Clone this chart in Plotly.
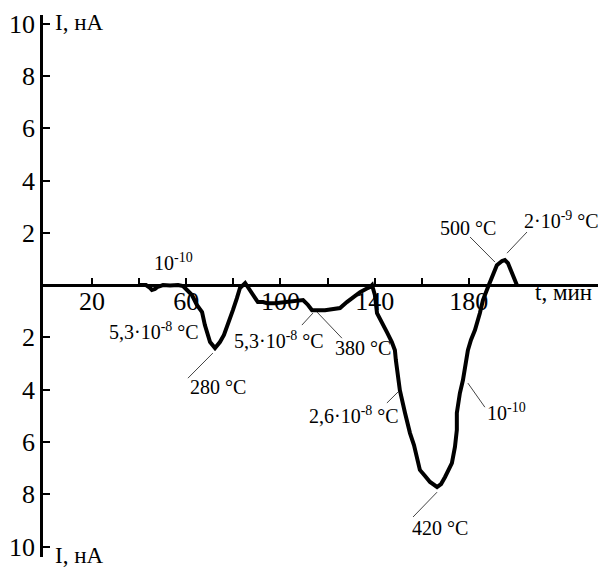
import plotly.graph_objects as go

# Time, min
t_min = [40.3, 42.9, 44.6, 45.4, 46.7, 47.6, 50.1, 53.1, 56.5, 58.6, 60.3, 62.4, 64.5, 66.7, 67.9,
         69.2, 70.1, 72.2, 74.3, 76.0, 77.3, 78.6, 79.8, 81.5, 82.8, 85.0, 86.2, 88.3, 90.4, 92.6,
         94.3, 97.7, 101.9, 106.2, 109.6, 111.7, 113.4, 118.9, 125.3, 128.2, 131.6, 133.8, 136.3,
         138.0, 138.9, 140.1, 141.0, 143.1, 145.2, 147.3, 148.6, 149.0, 149.5, 149.9, 150.7, 152.9,
         155.0, 156.7, 158.0, 159.2, 161.4, 163.5, 166.5, 168.2, 169.9, 172.0, 172.8, 174.1, 174.5,
         174.9, 174.9, 176.2, 177.5, 178.3, 179.6, 180.9, 182.6, 184.7, 186.0, 188.1, 189.8, 191.9,
         194.1, 195.3, 196.6, 197.5, 198.7, 199.6, 200.4]
# Current, nA (negative = below the time axis)
current_nA = [0.0, 0.0, -0.11, -0.19, -0.15, -0.08, 0.0, -0.02, 0.0, -0.04, -0.19, -0.38, -0.76, -1.03, -1.53,
              -1.91, -2.18, -2.41, -2.18, -1.91, -1.61, -1.26, -0.96, -0.50, -0.11, 0.08, -0.08, -0.31, -0.65, -0.65,
              -0.69, -0.69, -0.65, -0.61, -0.57, -0.76, -0.96, -0.96, -0.88, -0.65, -0.42, -0.27, -0.15,
              -0.08, 0.0, -0.38, -1.07, -1.41, -1.80, -2.18, -2.49, -2.87, -3.25, -3.63, -4.02, -4.89,
              -5.66, -6.12, -6.58, -7.07, -7.30, -7.53, -7.72, -7.61, -7.34, -7.00, -6.81, -6.19, -5.85,
              -5.54, -4.89, -4.13, -3.63, -3.25, -2.49, -2.10, -1.72, -1.07, -0.57, -0.08, 0.31, 0.76,
              0.92, 0.96, 0.84, 0.65, 0.38, 0.19, 0.0]

x_ticks = [20, 40, 60, 80, 100, 120, 140, 160, 180]
x_tick_text = ["20", "", "60", "", "100", "", "140", "", "180"]
y_ticks = [-10, -8, -6, -4, -2, 2, 4, 6, 8, 10]
y_tick_text = ["10", "8", "6", "4", "2", "2", "4", "6", "8", "10"]

# labels: text, (t, I) of text left/centre, leader line from curve point to text
labels = [
    ("10<sup>-10</sup>", 45.4, 0.88, None),
    ("5,3·10<sup>-8</sup> °C", 26.3, -1.76, None),
    ("280 °C", 60.7, -3.90, (71.3, -2.60, 60.7, -3.56)),
    ("5,3·10<sup>-8</sup> °C", 79.4, -2.10, (113.8, -1.07, 109.1, -1.53)),
    ("380 °C", 122.3, -2.41, (115.5, -1.03, 126.1, -2.03)),
    ("2,6·10<sup>-8</sup> °C", 111.3, -4.97, (149.9, -4.09, 145.2, -4.51)),
    ("420 °C", 155.0, -9.29, (166.5, -7.92, 156.3, -8.87)),
    ("10<sup>-10</sup>", 186.8, -4.86, (179.6, -3.75, 186.8, -4.67)),
    ("500 °C", 166.9, 2.18, (180.5, 1.84, 191.1, 0.88)),
    ("2·10<sup>-9</sup> °C", 202.5, 2.49, (204.7, 2.03, 196.2, 1.22)),
]

FONT = "Liberation Serif, Times New Roman, serif"

fig = go.Figure()
fig.add_trace(go.Scatter(x=t_min, y=current_nA, mode="lines",
                         line=dict(color="black", width=4), showlegend=False,
                         hoverinfo="skip"))

y_range = [-10.40, 10.33]
x_range = [-0.85, 235.7]
zero_pos = (0 - y_range[0]) / (y_range[1] - y_range[0])

annotations = []
shapes = []
for text, tx, ty, leader in labels:
    annotations.append(dict(x=tx, y=ty, xref="x", yref="y", text=text, showarrow=False,
                            xanchor="left", yanchor="middle",
                            font=dict(family=FONT, size=20, color="black")))
    if leader:
        x0, y0, x1, y1 = leader
        shapes.append(dict(type="line", xref="x", yref="y", x0=x0, y0=y0, x1=x1, y1=y1,
                           line=dict(color="#444", width=1)))

annotations += [
    dict(x=3.4, y=10.06, xref="x", yref="y", text="I, нА", showarrow=False,
         xanchor="left", yanchor="middle", font=dict(family=FONT, size=23, color="black")),
    dict(x=3.4, y=-10.36, xref="x", yref="y", text="I, нА", showarrow=False,
         xanchor="left", yanchor="middle", font=dict(family=FONT, size=23, color="black")),
    dict(x=207.2, y=-0.27, xref="x", yref="y", text="t, мин", showarrow=False,
         xanchor="left", yanchor="middle", font=dict(family=FONT, size=23, color="black")),
]

# the page body has an 8px default margin, so the figure is shrunk by that offset
fig.update_layout(
    width=598, height=564,
    margin=dict(l=35, r=6, t=7, b=15, autoexpand=False),
    paper_bgcolor="white", plot_bgcolor="white",
    annotations=annotations, shapes=shapes,
    xaxis=dict(range=x_range, anchor="free", position=zero_pos, automargin=False,
               tickmode="array", tickvals=x_ticks, ticktext=x_tick_text,
               ticks="inside", ticklen=6, tickwidth=2, tickcolor="black",
               ticklabelstandoff=-8,
               showline=True, linecolor="black", linewidth=2.5,
               showgrid=False, zeroline=False,
               tickfont=dict(family=FONT, size=26, color="black")),
    yaxis=dict(range=y_range, automargin=False, tickmode="array", tickvals=y_ticks,
               ticktext=y_tick_text,
               ticks="inside", ticklen=7, tickwidth=2, tickcolor="black",
               showline=True, linecolor="black", linewidth=2.5,
               showgrid=False, zeroline=False,
               tickfont=dict(family=FONT, size=26, color="black")),
)

fig.write_html("out.html")
